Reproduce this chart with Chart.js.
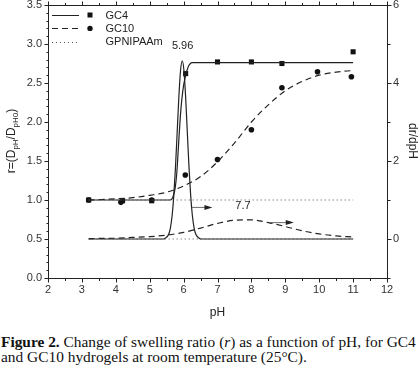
<!DOCTYPE html>
<html>
<head>
<meta charset="utf-8">
<script src="https://cdn.jsdelivr.net/npm/chart.js@4"></script>
<style>
body{margin:0;background:#fff;width:420px;height:371px;overflow:hidden}
#wrap{position:relative;width:420px;height:322px}
#cap{font-family:"Liberation Serif","Times New Roman",serif;font-size:15.4px;line-height:15px;color:#111;margin-top:12px;padding-left:1px;white-space:nowrap}
</style>
</head>
<body>
<div id="wrap"><canvas id="chart"></canvas></div>
<div id="cap"><b>Figure 2.</b> Change of swelling ratio (<i>r</i>) as a function of pH, for GC4<br>and GC10 hydrogels at room temperature (25°C).</div>
<script>
// measured points
const gc4Ph=[3.2,4.2,5.06,6.06,7.0,8.0,8.9,11.0];
const gc4R=[1.0,0.99,0.99,2.62,2.77,2.77,2.75,2.9];
const gc10Ph=[3.2,4.15,5.06,6.05,7.0,8.0,8.9,9.95,10.95];
const gc10R=[1.0,0.97,1.0,1.32,1.52,1.9,2.44,2.645,2.58];

// fitted curves (left axis)
const stepPh=[3.2,5.5,5.6,5.65,5.7,5.75,5.8,5.85,5.9,5.95,6.0,6.05,6.1,6.15,6.2,6.25,6.35,11.0];
const gc4Fit=[1.0,1.0,1.0,1.01,1.06,1.15,1.35,1.7,2.05,2.3,2.47,2.58,2.66,2.72,2.75,2.76,2.76,2.76];
const smoothPh=[3.2,3.5,4,4.5,5,5.5,6,6.5,7,7.5,8,8.5,9,9.5,10,10.5,11];
const gc10Fit=[1.0,1.005,1.015,1.03,1.06,1.1,1.18,1.3,1.49,1.73,2.0,2.22,2.4,2.52,2.6,2.64,2.66];

// derivatives (right axis)
const peakPh=[3.2,5.4,5.46,5.56,5.61,5.66,5.71,5.76,5.81,5.86,5.91,5.96,6.01,6.06,6.11,6.16,6.21,6.26,6.31,6.36,6.46,6.52,11.0];
const gc4Deriv=[0,0,0.02,0.12,0.28,0.59,1.1,1.83,2.73,3.64,4.32,4.57,4.32,3.64,2.73,1.83,1.1,0.59,0.28,0.12,0.02,0,0];
const gc10Deriv=[0.01,0.015,0.02,0.04,0.06,0.1,0.17,0.28,0.4,0.48,0.49,0.42,0.32,0.21,0.13,0.08,0.05];

// GPNIPAAm reference
const refPh=[3.2,11.0];
const refR=[1.0,1.0];
const refDeriv=[0,0];

const xTicks=[2,3,4,5,6,7,8,9,10,11,12];
const yTicks=[0,0.5,1,1.5,2,2.5,3,3.5];
const y2Ticks=[0,2,4,6];

const pts=(xs,ys)=>xs.map((x,i)=>({x:x,y:ys[i]}));
const ink='#222';
const fontFam='"Liberation Sans", Arial, sans-serif';

function line(ctx,x1,y1,x2,y2){ctx.beginPath();ctx.moveTo(x1,y1);ctx.lineTo(x2,y2);ctx.stroke();}
function arrow(ctx,x1,y,x2){
  ctx.strokeStyle='#444';ctx.fillStyle='#222';ctx.lineWidth=0.8;
  line(ctx,x1,y,x2-6,y);
  ctx.beginPath();ctx.moveTo(x2,y);ctx.lineTo(x2-8,y-2.5);ctx.lineTo(x2-8,y+2.5);ctx.closePath();ctx.fill();
}

const decor={
  id:'decor',
  afterDraw(chart){
    const ctx=chart.ctx, a=chart.chartArea;
    const x=chart.scales.x, y=chart.scales.y, y2=chart.scales.y2;
    ctx.save();
    ctx.strokeStyle=ink;ctx.lineWidth=1;
    const L=Math.round(a.left)+0.5, R=Math.round(a.right)+0.5, T=Math.round(a.top)+0.5, B=Math.round(a.bottom)+0.5;
    ctx.strokeRect(L,T,R-L,B-T);
    // x ticks bottom and top
    for(let v=2;v<=12.001;v+=0.5){
      const p=Math.round(x.getPixelForValue(v))+0.5;
      const len=Math.abs(v-Math.round(v))<1e-6?4:2.5;
      line(ctx,p,B,p,B+len);
      line(ctx,p,T,p,T-len);
    }
    // left ticks
    for(let i=0;i<=35;i++){
      const v=i/10, p=Math.round(y.getPixelForValue(v))+0.5;
      const len=i%5===0?4:2;
      line(ctx,L-len,p,L,p);
    }
    // right ticks
    for(let v=-1;v<=6;v++){
      const p=Math.round(y2.getPixelForValue(v))+0.5;
      const len=v%2===0?4:3;
      line(ctx,R,p,R+len,p);
    }
    // arrows and peak labels
    arrow(ctx,x.getPixelForValue(6.25),y.getPixelForValue(0.905),x.getPixelForValue(6.85));
    arrow(ctx,x.getPixelForValue(8.55),y.getPixelForValue(0.71),x.getPixelForValue(9.25));
    ctx.fillStyle=ink;ctx.font='11px '+fontFam;ctx.textAlign='center';ctx.textBaseline='middle';
    ctx.fillText('5.96',x.getPixelForValue(5.97),y.getPixelForValue(2.98));
    ctx.fillText('7.7',x.getPixelForValue(7.75),y.getPixelForValue(0.92));
    // legend
    ctx.textAlign='left';
    const rows=[{dash:[],mark:'rect',t:'GC4'},{dash:[6,4],mark:'circle',t:'GC10'},{dash:[1,3],mark:null,t:'GPNIPAAm'}];
    rows.forEach((r,i)=>{
      const yy=15+i*13.4;
      ctx.strokeStyle=i===2?'#555':ink;ctx.lineWidth=1;ctx.setLineDash(r.dash);
      line(ctx,52,Math.round(yy)+0.5,79,Math.round(yy)+0.5);
      ctx.setLineDash([]);
      ctx.fillStyle='#111';
      if(r.mark==='rect') ctx.fillRect(87.5,yy-2.5,5,5);
      if(r.mark==='circle'){ctx.beginPath();ctx.arc(90,yy,2.7,0,Math.PI*2);ctx.fill();}
      ctx.fillStyle=ink;ctx.fillText(r.t,105.5,yy+0.5);
    });
    // x title
    ctx.textAlign='center';ctx.font='12px '+fontFam;
    ctx.fillText('pH',x.getPixelForValue(7),313);
    // right title
    ctx.save();ctx.translate(412,141);ctx.rotate(Math.PI/2);ctx.fillText('dr/dpH',0,0);ctx.restore();
    // left title with subscripts
    const parts=[['r=(D',0],['pH',1],['/D',0],['pH0',1],[')',0]];
    const big='12px '+fontFam, small='8px '+fontFam;
    let w=0;parts.forEach(p=>{ctx.font=p[1]?small:big;w+=ctx.measureText(p[0]).width;});
    ctx.save();ctx.translate(12,141);ctx.rotate(-Math.PI/2);ctx.textAlign='left';
    let cx=-w/2;
    parts.forEach(p=>{ctx.font=p[1]?small:big;ctx.fillText(p[0],cx,p[1]?4:0);cx+=ctx.measureText(p[0]).width;});
    ctx.restore();
    ctx.restore();
  }
};

new Chart(document.getElementById('chart'),{
  type:'scatter',
  data:{
    datasets:[
      {data:pts(refPh,refR),yAxisID:'y',showLine:true,borderColor:'#555',borderWidth:1,borderDash:[1,3],pointRadius:0},
      {data:pts(refPh,refDeriv),yAxisID:'y2',showLine:true,borderColor:'#555',borderWidth:1,borderDash:[1,3],pointRadius:0},
      {data:pts(stepPh,gc4Fit),yAxisID:'y',showLine:true,borderColor:ink,borderWidth:1.2,pointRadius:0,cubicInterpolationMode:'monotone'},
      {data:pts(peakPh,gc4Deriv),yAxisID:'y2',showLine:true,borderColor:ink,borderWidth:1.2,pointRadius:0,cubicInterpolationMode:'monotone'},
      {data:pts(smoothPh,gc10Fit),yAxisID:'y',showLine:true,borderColor:ink,borderWidth:1.2,borderDash:[6,4],pointRadius:0,cubicInterpolationMode:'monotone'},
      {data:pts(smoothPh,gc10Deriv),yAxisID:'y2',showLine:true,borderColor:ink,borderWidth:1.2,borderDash:[6,4],pointRadius:0,cubicInterpolationMode:'monotone'},
      {data:pts(gc4Ph,gc4R),yAxisID:'y',pointStyle:'rect',pointRadius:3.6,backgroundColor:'#111',borderColor:'#111',borderWidth:0},
      {data:pts(gc10Ph,gc10R),yAxisID:'y',pointStyle:'circle',pointRadius:2.8,backgroundColor:'#111',borderColor:'#111',borderWidth:0}
    ]
  },
  options:{
    responsive:true,
    maintainAspectRatio:false,
    animation:false,
    layout:{padding:{top:5,left:0,right:0,bottom:0}},
    plugins:{legend:{display:false},tooltip:{enabled:false}},
    scales:{
      x:{
        type:'linear',min:2,max:12,
        afterBuildTicks:s=>{s.ticks=xTicks.map(v=>({value:v}));},
        afterFit:s=>{s.height=44;s.paddingLeft=0;s.paddingRight=0;},
        grid:{display:false,drawTicks:false},border:{display:false},
        ticks:{padding:5,color:'#333',font:{family:fontFam,size:11},maxRotation:0}
      },
      y:{
        type:'linear',position:'left',min:0,max:3.5,
        afterBuildTicks:s=>{s.ticks=yTicks.map(v=>({value:v}));},
        afterFit:s=>{s.width=48;s.paddingTop=0;s.paddingBottom=0;},
        grid:{display:false,drawTicks:false},border:{display:false},
        ticks:{padding:6,color:'#333',font:{family:fontFam,size:11},callback:v=>v.toFixed(1)}
      },
      y2:{
        type:'linear',position:'right',min:-1,max:6,
        afterBuildTicks:s=>{s.ticks=y2Ticks.map(v=>({value:v}));},
        afterFit:s=>{s.width=33;s.paddingTop=0;s.paddingBottom=0;},
        grid:{display:false,drawTicks:false},border:{display:false},
        ticks:{padding:6,color:'#333',font:{family:fontFam,size:11}}
      }
    }
  },
  plugins:[decor]
});
</script>
</body>
</html>
